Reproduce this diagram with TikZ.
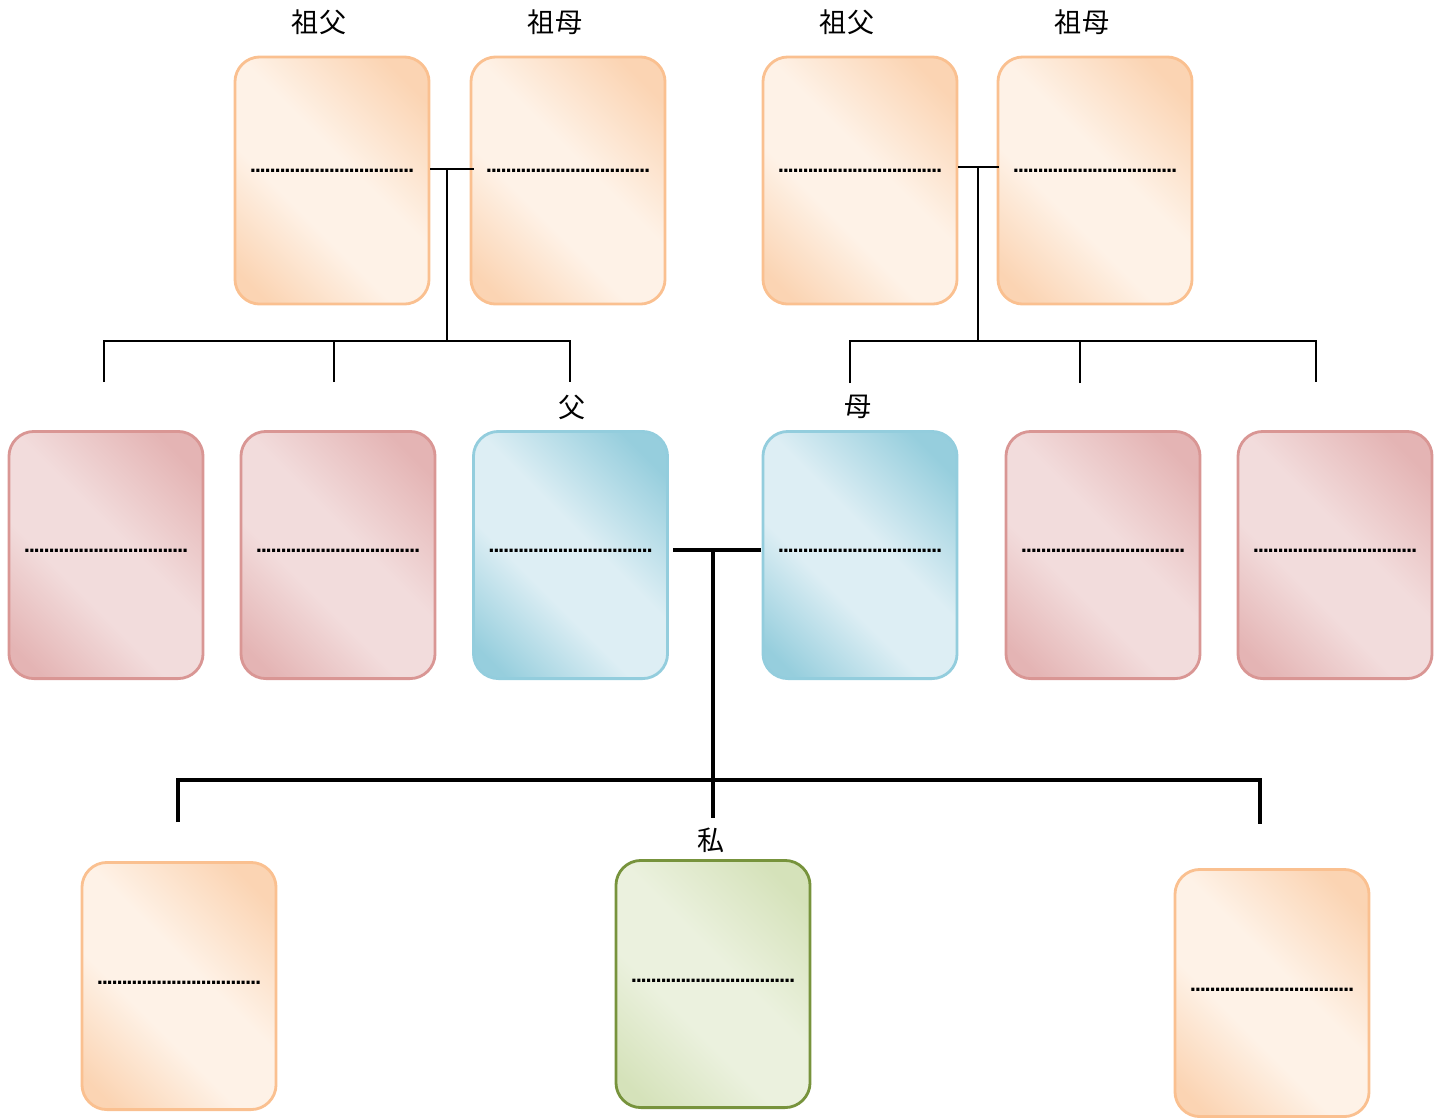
\documentclass[tikz,border=0pt]{standalone}
\usepackage{fontspec}
\newfontfamily\cjk{Noto Sans CJK JP}
\newfontfamily\dotfont{DejaVu Sans}
\usetikzlibrary{positioning, calc}

% card colours: border, corner tone, middle tone
\definecolor{orline}{HTML}{FAC090}
\definecolor{ordark}{HTML}{FBD4B3}
\definecolor{orlight}{HTML}{FEF2E7}
\definecolor{pkline}{HTML}{D99694}
\definecolor{pkdark}{HTML}{E4B4B4}
\definecolor{pklight}{HTML}{F2DCDC}
\definecolor{blline}{HTML}{93CDDD}
\definecolor{bldark}{HTML}{96CEDD}
\definecolor{bllight}{HTML}{DDEEF4}
\definecolor{grline}{HTML}{77933C}
\definecolor{grdark}{HTML}{D5E2BA}
\definecolor{grlight}{HTML}{EBF1DE}

\pgfdeclarehorizontalshading{orshade}{100bp}{color(0bp)=(ordark); color(20bp)=(ordark); color(40bp)=(orlight); color(55bp)=(orlight); color(78bp)=(ordark); color(100bp)=(ordark)}
\pgfdeclarehorizontalshading{pkshade}{100bp}{color(0bp)=(pkdark); color(20bp)=(pkdark); color(40bp)=(pklight); color(55bp)=(pklight); color(78bp)=(pkdark); color(100bp)=(pkdark)}
\pgfdeclarehorizontalshading{blshade}{100bp}{color(0bp)=(bldark); color(20bp)=(bldark); color(40bp)=(bllight); color(55bp)=(bllight); color(78bp)=(bldark); color(100bp)=(bldark)}
\pgfdeclarehorizontalshading{grshade}{100bp}{color(0bp)=(grdark); color(20bp)=(grdark); color(40bp)=(grlight); color(55bp)=(grlight); color(78bp)=(grdark); color(100bp)=(grdark)}

% row of dots to write a name on
\newcommand\namerow{{\dotfont\bfseries\fontsize{5}{6}\selectfont
  \makebox[1.63cm]{\leaders\hbox to 1.405pt{\hss.\hss}\hfill}}}

\begin{document}
\begin{tikzpicture}[x=0.01cm, y=-0.01cm,
    card/.style={draw, line width=0.8pt, rounded corners=0.25cm, minimum width=1.94cm,
      minimum height=2.47cm, inner sep=0pt, text height=0.05cm, shading angle=45},
    orcard/.style={card, draw=orline, shading=orshade},
    pkcard/.style={card, draw=pkline, shading=pkshade},
    blcard/.style={card, draw=blline, shading=blshade},
    grcard/.style={card, draw=grline, shading=grshade},
    tline/.style={line width=0.7pt},
    bline/.style={line width=1.1pt},
    who/.style={font=\cjk\fontsize{7.7}{9}\selectfont}]
  \useasboundingbox (0,0) rectangle (1446,1117);

  % grandparents
  \node (gf1) [orcard, text depth=0.22cm] at (332,180.5) {\namerow};
  \node (gm1) [orcard, text depth=0.22cm] at (568,180.5) {\namerow};
  \node (gf2) [orcard, text depth=0.22cm] at (860,180.5) {\namerow};
  \node (gm2) [orcard, text depth=0.22cm] at (1095,180.5) {\namerow};
  \node (lgf1) [who] at (319,22) {祖父};
  \node (lgm1) [who] at (555,22) {祖母};
  \node (lgf2) [who] at (847,22) {祖父};
  \node (lgm2) [who] at (1082,22) {祖母};

  % parents and their siblings
  \node (u1) [pkcard, text depth=0.11cm] at (106,555) {\namerow};
  \node (u2) [pkcard, text depth=0.11cm] at (338,555) {\namerow};
  \node (fa) [blcard, text depth=0.11cm] at (570.5,555) {\namerow};
  \node (mo) [blcard, text depth=0.11cm] at (860,555) {\namerow};
  \node (a1) [pkcard, text depth=0.11cm] at (1103,555) {\namerow};
  \node (a2) [pkcard, text depth=0.11cm] at (1335,555) {\namerow};
  \node (lfa) [who] at (572,407) {父};
  \node (lmo) [who] at (858,407) {母};

  % children
  \node (s1) [orcard, text depth=0.09cm] at (179,986) {\namerow};
  \node (me) [grcard, text depth=0.09cm] at (713,984) {\namerow};
  \node (s2) [orcard, text depth=0.09cm] at (1272,993) {\namerow};
  \node (lme) [who] at (711,840) {私};

  % left family
  \coordinate (k1) at (447,169);
  \coordinate (b1) at (447,341);
  \coordinate (t1) at (104,382);
  \coordinate (t2) at (334,382);
  \coordinate (t3) at (570,382);
  \draw[tline] ($(gf1.east)+(0,-11.5)$) -- ($(gm1.west)+(4,-11.5)$);
  \draw[tline] (k1) -- (b1);
  \draw[tline] (t1) |- (b1) -| (t3);
  \draw[tline] (t2) -- (t2 |- b1);

  % right family
  \coordinate (k2) at (978,167);
  \coordinate (b2) at (978,341);
  \coordinate (t4) at (850,383);
  \coordinate (t5) at (1080,383);
  \coordinate (t6) at (1316,382);
  \draw[tline] ($(gf2.east)+(0,-13.5)$) -- ($(gm2.west)+(2,-13.5)$);
  \draw[tline] (k2) -- (b2);
  \draw[tline] (t4) |- (b2) -| (t6);
  \draw[tline] (t5) -- (t5 |- b2);

  % our family
  \coordinate (k3) at (713,550);
  \coordinate (b3) at (713,780);
  \coordinate (t7) at (178,822);
  \coordinate (t8) at (713,818);
  \coordinate (t9) at (1260,824);
  \draw[bline] ($(fa.east)+(4,-5)$) -- ($(mo.west)+(-1,-5)$);
  \draw[bline] (k3) -- (t8);
  \draw[bline] (t7) |- (b3) -| (t9);
\end{tikzpicture}
\end{document}
